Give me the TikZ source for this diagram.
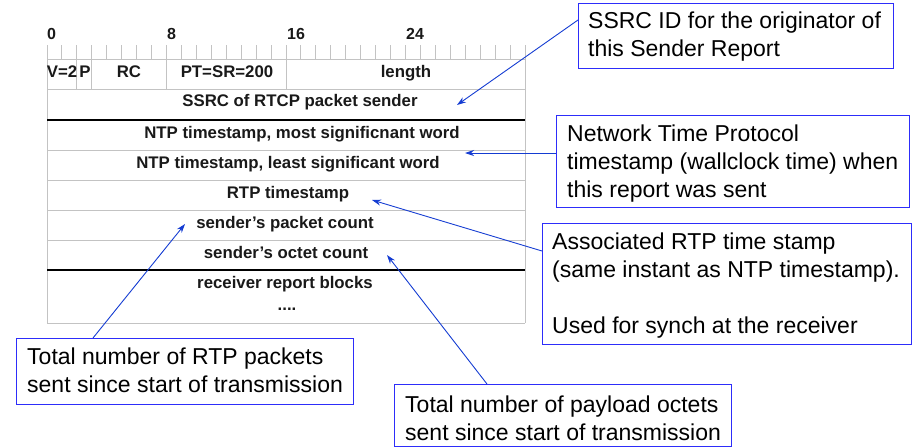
\documentclass[tikz,border=0pt]{standalone}
\usepackage{fontspec}
\setmainfont{Liberation Sans}
\usetikzlibrary{arrows.meta}
\definecolor{boxblue}{RGB}{45,45,250}
\definecolor{arrblue}{RGB}{20,60,210}
\definecolor{gridgray}{RGB}{195,195,195}
\definecolor{txt}{RGB}{25,25,25}
\begin{document}
\begin{tikzpicture}[x=1pt,y=-1pt,
  cell/.style={anchor=base,inner sep=0,text=txt,font=\fontsize{16.8}{19}\selectfont\bfseries},
  num/.style={anchor=base west,inner sep=0,text=txt,font=\fontsize{16}{18}\selectfont\bfseries},
  note/.style={draw=boxblue,line width=1.2pt,anchor=north west,inner sep=0},
  notetext/.style={anchor=north west,inner sep=0,align=left,font=\fontsize{23}{28}\selectfont},
  gridline/.style={draw=gridgray,line width=0.9pt},
  heavyrule/.style={draw=black,line width=2.4pt},
  callout/.style={draw=arrblue,line width=0.9pt,-{Stealth[length=9pt,width=6pt]}}
]
\useasboundingbox (0,0) rectangle (920,447);

% bit ruler
\foreach \i in {0,...,32} \draw[gridline] ({47+\i*14.9375},45) -- ({47+\i*14.9375},59);
\foreach \b in {2,3,8,16} \draw[gridline] ({47+\b*14.9375},45) -- ({47+\b*14.9375},89);
\draw[gridline] (47,45) -- (47,323);
\draw[gridline] (525,45) -- (525,323);
\foreach \y in {59,89,150,180,210,240,323} \draw[gridline] (47,\y) -- (525,\y);
\draw[heavyrule] (47,120) -- (525,120);
\draw[heavyrule] (47,270) -- (525,270);

% bit numbers
\node[num] (n0) at (47,39) {0};
\node[num] (n8) at (167,39) {8};
\node[num] (n16) at (287,39) {16};
\node[num] (n24) at (406,39) {24};

% fields
\node[cell] (v) at (62,77) {V=2};
\node[cell] (p) at (85,77) {P};
\node[cell] (rc) at (129,77) {RC};
\node[cell] (pt) at (227,77) {PT=SR=200};
\node[cell] (len) at (406,77) {length};
\node[cell] (ssrc) at (300,106) {SSRC of RTCP packet sender};
\node[cell] (ntp1) at (302,138) {NTP timestamp, most significnant word};
\node[cell] (ntp2) at (288,168) {NTP timestamp, least significant word};
\node[cell] (rtp) at (288,198) {RTP timestamp};
\node[cell] (pkt) at (285,228) {sender’s packet count};
\node[cell] (oct) at (286,258) {sender’s octet count};
\node[cell] (rrb) at (285,288) {receiver report blocks};
\node[cell] (dots) at (287,310) {....};

% annotation boxes
\node[note,minimum width=315pt,minimum height=65pt] (b1) at (578,3) {};
\node[notetext] (t1) at (588,12) {SSRC ID for the originator of\\this Sender Report};
\node[note,minimum width=353pt,minimum height=92pt] (b2) at (556,115) {};
\node[notetext] (t2) at (567,125) {Network Time Protocol\\timestamp (wallclock time) when\\this report was sent};
\node[note,minimum width=369pt,minimum height=121pt] (b3) at (542,223) {};
\node[notetext] (t3) at (552,233) {Associated RTP time stamp\\(same instant as NTP timestamp).\\[28pt]Used for synch at the receiver};
\node[note,minimum width=337pt,minimum height=66pt] (b4) at (16,338) {};
\node[notetext] (t4) at (27,348) {Total number of RTP packets\\sent since start of transmission};
\node[note,minimum width=337pt,minimum height=62pt] (b5) at (394,384) {};
\node[notetext] (t5) at (405,396) {Total number of payload octets\\sent since start of transmission};

% callout arrows
\coordinate (s1) at (578,20);  \coordinate (e1) at (457,105);
\coordinate (s2) at (556,153); \coordinate (e2) at (465,153);
\coordinate (s3) at (542,251); \coordinate (e3) at (372,200);
\coordinate (s4) at (93,338);  \coordinate (e4) at (185,224);
\coordinate (s5) at (487,384); \coordinate (e5) at (387,255);
\draw[callout] (s1) -- (e1);
\draw[callout] (s2) -- (e2);
\draw[callout] (s3) -- (e3);
\draw[callout] (s4) -- (e4);
\draw[callout] (s5) -- (e5);
\end{tikzpicture}
\end{document}
